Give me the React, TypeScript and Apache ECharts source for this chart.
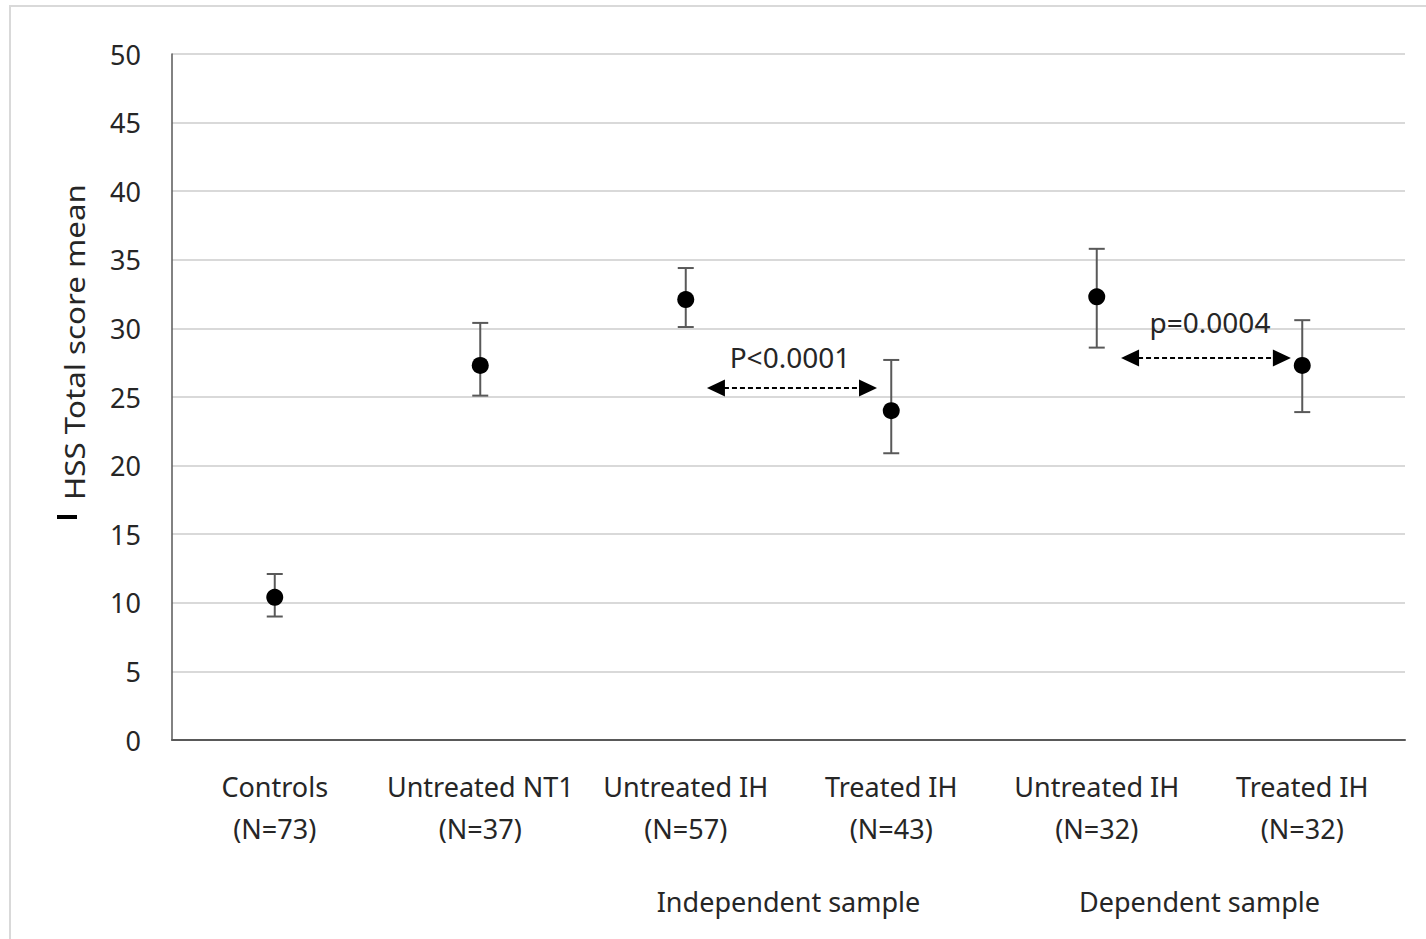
import React, { useEffect, useRef } from "react";
import * as echarts from "echarts";

const categories = [
  "Controls\n(N=73)",
  "Untreated NT1\n(N=37)",
  "Untreated IH\n(N=57)",
  "Treated IH\n(N=43)",
  "Untreated IH\n(N=32)",
  "Treated IH\n(N=32)",
];
const groupLabels = ["", "Independent sample", "Dependent sample"];
const means = [10.4, 27.3, 32.1, 24.0, 32.3, 27.3];
const upper = [12.1, 30.4, 34.4, 27.7, 35.8, 30.6];
const lower = [9.0, 25.1, 30.1, 20.9, 28.6, 23.9];
const comparisons = [
  { label: "P<0.0001", from: 2.147, to: 2.887, y: 25.66, textX: 2.507, textY: 27.9 },
  { label: "p=0.0004", from: 4.162, to: 4.901, y: 27.84, textX: 4.551, textY: 30.47 },
];
const yTicks = { min: 0, max: 50, interval: 5 };

const FONT = "'Noto Sans', 'Open Sans', sans-serif";
const TXT = "#262626";
const FS = 27;

export default function App() {
  const ref = useRef<HTMLDivElement>(null);
  useEffect(() => {
    if (!ref.current) return;
    const chart = echarts.init(ref.current, null, { renderer: "svg" });
    const option: any = {
      animation: false,
      backgroundColor: "#ffffff",
      textStyle: { fontFamily: FONT },
      grid: { left: 172, right: 21, top: 54, bottom: 199 },
      xAxis: [
        {
          type: "category",
          data: categories,
          position: "bottom",
          boundaryGap: true,
          axisLine: { show: true, lineStyle: { color: "#595959", width: 2 } },
          axisTick: { show: false },
          axisLabel: {
            interval: 0,
            margin: 25,
            fontSize: FS,
            lineHeight: 42,
            color: TXT,
            fontFamily: FONT,
          },
          splitLine: { show: false },
        },
        {
          type: "category",
          data: groupLabels,
          position: "bottom",
          boundaryGap: true,
          axisLine: { show: false },
          axisTick: { show: false },
          axisLabel: {
            interval: 0,
            margin: 146,
            fontSize: FS,
            lineHeight: 30,
            color: TXT,
            fontFamily: FONT,
          },
          splitLine: { show: false },
        },
        {
          type: "value",
          min: -0.5,
          max: 5.5,
          show: false,
          position: "top",
        },
      ],
      yAxis: {
        type: "value",
        min: yTicks.min,
        max: yTicks.max,
        interval: yTicks.interval,
        axisLine: { show: true, onZero: false, lineStyle: { color: "#595959", width: 1.5 } },
        axisTick: { show: false },
        axisLabel: { fontSize: FS, color: TXT, margin: 31, fontFamily: FONT },
        splitLine: { show: true, lineStyle: { color: "#d9d9d9", width: 2 } },
      },
      graphic: [
        {
          type: "rect",
          shape: { x: 10, y: 6, width: 1430, height: 940 },
          style: { fill: "none", stroke: "#d9d9d9", lineWidth: 2 },
          silent: true,
        },
        {
          type: "text",
          x: 75,
          y: 342,
          rotation: Math.PI / 2,
          scaleX: 1.16,
          style: {
            text: "HSS Total score mean",
            fontSize: FS,
            fontFamily: FONT,
            fill: TXT,
            align: "center",
            verticalAlign: "middle",
          },
        },
        {
          type: "rect",
          shape: { x: 57, y: 515, width: 20, height: 4 },
          style: { fill: "#000000" },
        },
      ],
      series: [
        {
          type: "custom",
          xAxisIndex: 2,
          data: means.map((_, i) => [i, lower[i], upper[i]]),
          renderItem: (params: any, api: any) => {
            const x = api.value(0);
            const lo = api.coord([x, api.value(1)]);
            const hi = api.coord([x, api.value(2)]);
            const half = 8;
            const style = { stroke: "#595959", lineWidth: 2 };
            return {
              type: "group",
              children: [
                { type: "line", shape: { x1: lo[0], y1: lo[1], x2: hi[0], y2: hi[1] }, style },
                { type: "line", shape: { x1: hi[0] - half, y1: hi[1], x2: hi[0] + half, y2: hi[1] }, style },
                { type: "line", shape: { x1: lo[0] - half, y1: lo[1], x2: lo[0] + half, y2: lo[1] }, style },
              ],
            };
          },
          z: 2,
        },
        {
          type: "scatter",
          xAxisIndex: 2,
          data: means.map((v, i) => [i, v]),
          symbol: "circle",
          symbolSize: 17,
          itemStyle: { color: "#000000", opacity: 1 },
          z: 3,
          markLine: {
            silent: true,
            symbol: ["triangle", "triangle"],
            symbolSize: [17, 18],
            lineStyle: { type: [5, 3], color: "#000000", width: 2, opacity: 1 },
            itemStyle: { color: "#000000", opacity: 1 },
            label: { show: false },
            data: comparisons.map((c) => [
              { coord: [c.from, c.y] },
              { coord: [c.to, c.y] },
            ]),
          },
        },
        {
          type: "scatter",
          xAxisIndex: 2,
          data: comparisons.map((c) => ({ value: [c.textX, c.textY], name: c.label })),
          symbolSize: 0,
          itemStyle: { opacity: 1 },
          label: {
            show: true,
            position: "inside",
            formatter: (p: any) => p.name,
            fontSize: 28,
            color: TXT,
            fontFamily: FONT,
          },
          z: 4,
        },
      ],
    };
    chart.setOption(option);
    return () => chart.dispose();
  }, []);
  return (
    <div
      ref={ref}
      style={{ position: "fixed", left: 0, top: 0, width: 1426, height: 939 }}
    />
  );
}
